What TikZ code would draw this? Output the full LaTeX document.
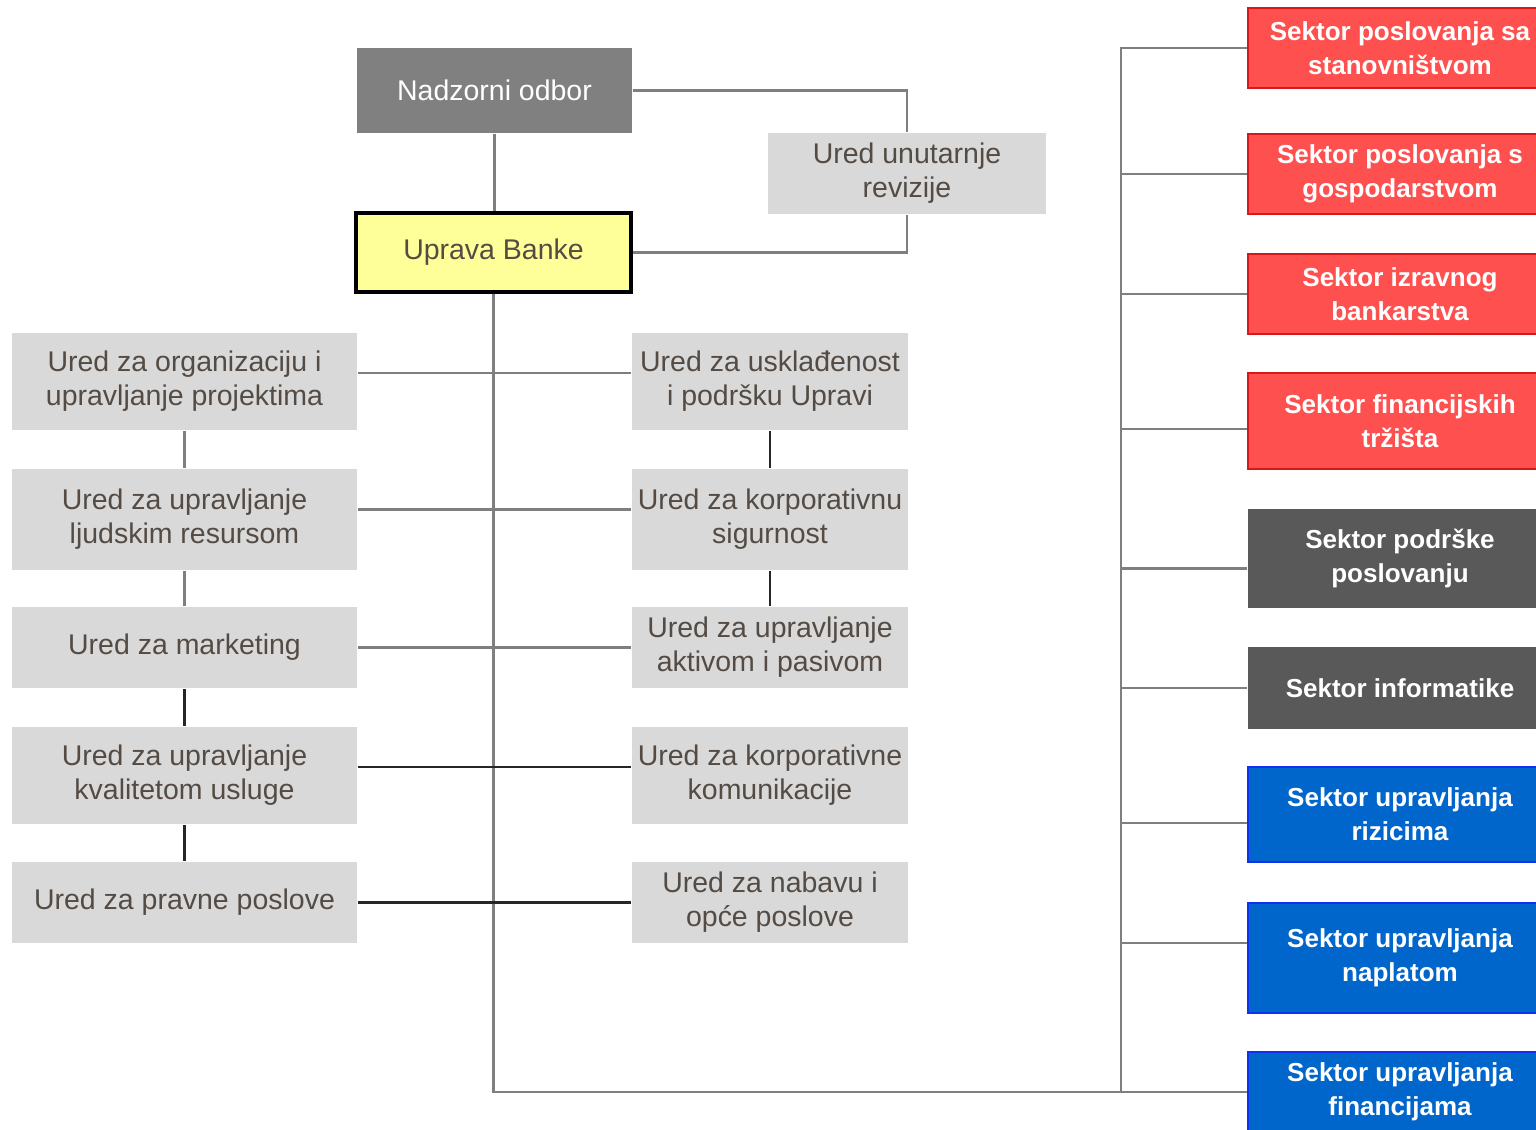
\documentclass[tikz,border=0pt]{standalone}
\usepackage{fontspec}
\setmainfont{Liberation Sans}
\usetikzlibrary{positioning}

\definecolor{officeGray}{HTML}{D9D9D9}
\definecolor{officeText}{RGB}{84,76,68}
\definecolor{boardGray}{HTML}{808080}
\definecolor{upravaYellow}{HTML}{FFFF99}
\definecolor{sectorRed}{HTML}{FF5050}
\definecolor{sectorRedLine}{HTML}{D81818}
\definecolor{sectorDark}{HTML}{595959}
\definecolor{sectorBlue}{HTML}{0066CC}
\definecolor{sectorBlueLine}{HTML}{1030F0}
\definecolor{lineGray}{HTML}{7F7F7F}

\begin{document}
\begin{tikzpicture}[
        x=0.01cm, y=-0.01cm,
        officeBlock/.style={
            rectangle, fill=officeGray, text=officeText, align=center,
            minimum width=3.45cm, inner sep=0pt,
            font=\fontsize{8.1}{9.7}\selectfont
        },
        middleBlock/.style={
            officeBlock, minimum width=2.76cm
        },
        boardBlock/.style={
            rectangle, fill=boardGray, text=white, align=center, inner sep=0pt,
            font=\fontsize{8.1}{9.7}\selectfont
        },
        managementBlock/.style={
            rectangle, fill=upravaYellow, draw=black, line width=1.2pt,
            text=officeText, align=center, inner sep=0pt,
            font=\fontsize{8.1}{9.7}\selectfont
        },
        sectorBlock/.style={
            rectangle, text=white, align=center, inner sep=0pt,
            minimum width=3.04cm, line width=0.5pt,
            font=\fontsize{7.4}{9.7}\selectfont\bfseries
        },
        redSector/.style={sectorBlock, fill=sectorRed, draw=sectorRedLine},
        darkSector/.style={sectorBlock, fill=sectorDark},
        blueSector/.style={sectorBlock, fill=sectorBlue, draw=sectorBlueLine},
        connector/.style={draw=lineGray, line width=0.6pt},
        darkConnector/.style={draw=black!85, line width=0.6pt}
    ]
        \useasboundingbox (0,0) rectangle (1536,1129);

        % Top
        \node (nadzor) [boardBlock, minimum width=2.75cm, minimum height=0.85cm] at (494.5,90.5) {Nadzorni odbor};
        \node (uprava) [managementBlock, minimum width=2.75cm, minimum height=0.79cm] at (493.5,252.5) {Uprava Banke};
        \node (revizija) [officeBlock, minimum width=2.78cm, minimum height=0.81cm] at (907,173.5) {Ured unutarnje\\revizije};

        % Left offices
        \node (orgUred) [officeBlock, minimum height=0.97cm] at (184.5,381.5) {Ured za organizaciju i\\upravljanje projektima};
        \node (ljudiUred) [officeBlock, minimum height=1.01cm] at (184.5,519.5) {Ured za upravljanje\\ljudskim resursom};
        \node (marketingUred) [officeBlock, minimum height=0.81cm] at (184.5,647.5) {Ured za marketing};
        \node (kvalitetaUred) [officeBlock, minimum height=0.97cm] at (184.5,775.5) {Ured za upravljanje\\kvalitetom usluge};
        \node (pravniUred) [officeBlock, minimum height=0.81cm] at (184.5,902.5) {Ured za pravne poslove};

        % Middle offices
        \node (usklUred) [middleBlock, minimum height=0.97cm] at (770,381.5) {Ured za usklađenost\\i podršku Upravi};
        \node (sigurnostUred) [middleBlock, minimum height=1.01cm] at (770,519.5) {Ured za korporativnu\\sigurnost};
        \node (aktivaUred) [middleBlock, minimum height=0.81cm] at (770,647.5) {Ured za upravljanje\\aktivom i pasivom};
        \node (komunikacijeUred) [middleBlock, minimum height=0.97cm] at (770,775.5) {Ured za korporativne\\komunikacije};
        \node (nabavaUred) [middleBlock, minimum height=0.81cm] at (770,902.5) {Ured za nabavu i\\opće poslove};

        % Sectors (cut off by the right edge)
        \node (sektorA) [redSector, minimum height=0.80cm] at (1400,48) {Sektor poslovanja sa\\stanovništvom};
        \node (sektorB) [redSector, minimum height=0.80cm] at (1400,174) {Sektor poslovanja s\\gospodarstvom};
        \node (sektorC) [redSector, minimum height=0.80cm] at (1400,294) {Sektor izravnog\\bankarstva};
        \node (sektorD) [redSector, minimum height=0.96cm] at (1400,421) {Sektor financijskih\\tržišta};
        \node (sektorE) [darkSector, minimum height=0.99cm] at (1400,558.5) {Sektor podrške\\poslovanju};
        \node (sektorF) [darkSector, minimum height=0.82cm] at (1400,688) {Sektor informatike};
        \node (sektorG) [blueSector, minimum height=0.95cm] at (1400,814.5) {Sektor upravljanja\\rizicima};
        \node (sektorH) [blueSector, minimum height=1.10cm] at (1400,958) {Sektor upravljanja\\naplatom};
        \node (sektorI) [blueSector, minimum height=0.80cm] at (1400,1092) {Sektor upravljanja\\financijama};

        \coordinate (busTop) at (1121,47);
        \coordinate (busBottom) at (1121,1092);

        % Board and audit
        \draw [connector] (nadzor.south) -- (nadzor.south |- uprava.north);
        \draw [connector] (nadzor.east) -| (revizija.north);
        \draw [connector] (uprava.east) -| (revizija.south);

        % Main trunk
        \draw [connector] (uprava.south) |- (sektorI.west);
        \draw [connector] (busTop) -- (busBottom);

        % Offices
        \draw [connector] ([yshift=0.085cm]orgUred.east) -- ([yshift=0.085cm]usklUred.west);
        \draw [connector] ([yshift=0.1cm]ljudiUred.east) -- ([yshift=0.1cm]sigurnostUred.west);
        \draw [connector] (marketingUred.east) -- (aktivaUred.west);
        \draw [darkConnector] ([yshift=0.085cm]kvalitetaUred.east) -- ([yshift=0.085cm]komunikacijeUred.west);
        \draw [darkConnector] (pravniUred.east) -- (nabavaUred.west);

        \draw [connector] (orgUred) -- (ljudiUred);
        \draw [connector] (ljudiUred) -- (marketingUred);
        \draw [darkConnector] (marketingUred) -- (kvalitetaUred);
        \draw [darkConnector] (kvalitetaUred) -- (pravniUred);
        \draw [darkConnector, line width=0.8pt] (usklUred) -- (sigurnostUred);
        \draw [darkConnector, line width=0.8pt] (sigurnostUred) -- (aktivaUred);

        % Sector links
        \draw [connector] (sektorA.west) -| (busTop);
        \draw [connector] (sektorB.west) -| (busTop);
        \draw [connector] (sektorC.west) -| (busTop);
        \draw [connector] ([yshift=-0.08cm]sektorD.west) -| (busTop);
        \draw [connector] ([yshift=-0.1cm]sektorE.west) -| (busTop);
        \draw [connector] (sektorF.west) -| (busTop);
        \draw [connector] ([yshift=-0.085cm]sektorG.west) -| (busTop);
        \draw [connector] ([yshift=0.15cm]sektorH.west) -| (busTop);
    \end{tikzpicture}
\end{document}
